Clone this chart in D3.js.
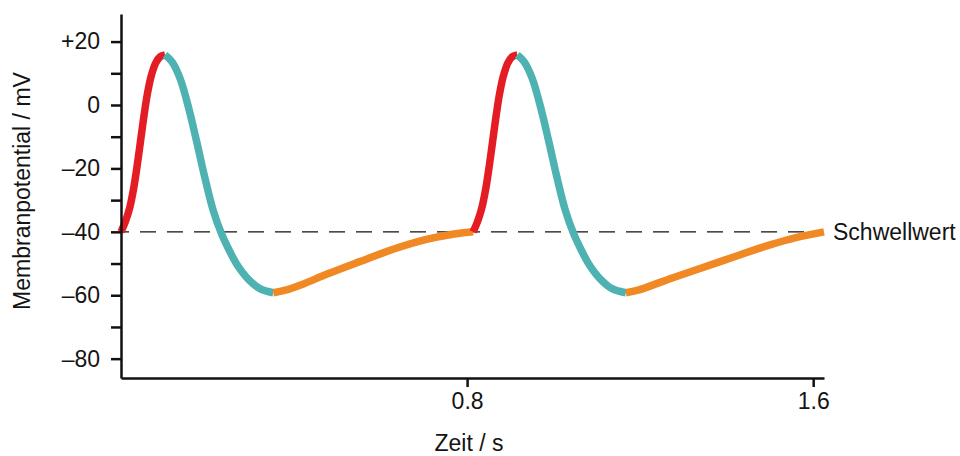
<!DOCTYPE html>
<html>
<head>
<meta charset="utf-8">
<script src="https://cdn.jsdelivr.net/npm/d3@7"></script>
<style>
  html, body { margin: 0; padding: 0; background: #fff; }
  svg { display: block; }
  text { font-family: "Liberation Sans", Arial, sans-serif; fill: #141414; }
</style>
</head>
<body>
<svg id="chart" width="960" height="456"></svg>
<script>
// ---- data (time in s, membrane potential in mV) ----
const yTickValues = [-80, -70, -60, -50, -40, -30, -20, -10, 0, 10, 20];
const yTickLabels = ["–80", "", "–60", "", "–40", "", "–20", "", "0", "", "+20"];
const xTickValues = [0.8, 1.6];
const xTickLabels = ["0.8", "1.6"];
const thresholdMV = -40;
const thresholdLabel = "Schwellwert";
const yTitle = "Membranpotential / mV";
const xTitle = "Zeit / s";

// cycle 1
const rise1T = [0, 0.010, 0.020, 0.029, 0.037, 0.045, 0.053, 0.061, 0.070, 0.080, 0.091, 0.1016];
const rise1V = [-40, -36.8, -32.5, -26.5, -19.5, -11.5, -3.5, 3.5, 9.2, 13.2, 15.3, 15.8];
const fall1T = [0.1016, 0.118, 0.137, 0.158, 0.176, 0.194, 0.213, 0.232, 0.249, 0.268, 0.294, 0.321, 0.352];
const fall1V = [15.8, 13.6, 8.2, -1.8, -12.2, -23.0, -33.2, -40.5, -45.5, -50.3, -54.9, -57.9, -59.2];
const slow1T = [0.352, 0.380, 0.420, 0.475, 0.552, 0.629, 0.706, 0.760, 0.814];
const slow1V = [-59.2, -58.4, -56.5, -53.4, -49.4, -45.5, -42.4, -40.9, -40];
// cycle 2
const rise2T = [0.814, 0.824, 0.834, 0.843, 0.851, 0.859, 0.867, 0.875, 0.884, 0.894, 0.905, 0.916];
const rise2V = [-40, -36.8, -32.5, -26.5, -19.5, -11.5, -3.5, 3.5, 9.2, 13.2, 15.3, 15.8];
const fall2T = [0.916, 0.932, 0.951, 0.972, 0.990, 1.008, 1.027, 1.046, 1.063, 1.082, 1.108, 1.135, 1.167];
const fall2V = [15.8, 13.6, 8.2, -1.8, -12.2, -23.0, -33.2, -40.5, -45.5, -50.3, -54.9, -57.9, -59.2];
const slow2T = [1.167, 1.195, 1.235, 1.269, 1.385, 1.50, 1.56, 1.625];
const slow2V = [-59.2, -58.4, -56.5, -54.8, -49.4, -44.1, -41.8, -40];

const phaseColor = { rise: "#e41d25", fall: "#4eb2b2", slow: "#f08824" };

// ---- layout ----
const svg = d3.select("#chart");
const x = d3.scaleLinear().domain([0, 1.625]).range([121, 824]);
const y = d3.scaleLinear().domain([-86.1, 28.7]).range([378, 14]);

// threshold dashed line
svg.append("line")
  .attr("x1", x(0)).attr("x2", x(1.62))
  .attr("y1", y(thresholdMV)).attr("y2", y(thresholdMV))
  .attr("stroke", "#111").attr("stroke-width", 1.4)
  .attr("stroke-dasharray", "16,11").attr("stroke-dashoffset", 8);

svg.append("text")
  .attr("x", 833).attr("y", y(thresholdMV) + 8)
  .attr("font-size", 23)
  .text(thresholdLabel);

// curves
const line = d3.line().x(d => x(d[0])).y(d => y(d[1])).curve(d3.curveCatmullRom.alpha(0.5));
const segments = [
  [rise1T, rise1V, "rise"], [fall1T, fall1V, "fall"], [slow1T, slow1V, "slow"],
  [rise2T, rise2V, "rise"], [fall2T, fall2V, "fall"], [slow2T, slow2V, "slow"]
];
segments.forEach(([ts, vs, phase]) => {
  svg.append("path")
    .datum(ts.map((t, i) => [t, vs[i]]))
    .attr("d", line)
    .attr("fill", "none")
    .attr("stroke", phaseColor[phase])
    .attr("stroke-width", 7.5)
    .attr("stroke-linecap", "butt")
    .attr("stroke-linejoin", "round");
});

// axes
const yAxis = d3.axisLeft(y).tickValues(yTickValues).tickSize(10).tickSizeOuter(0)
  .tickPadding(11).tickFormat((d, i) => yTickLabels[i]);
const gy = svg.append("g").attr("transform", `translate(${x(0)},0)`).call(yAxis);
const xAxis = d3.axisBottom(x).tickValues(xTickValues).tickSize(9).tickSizeOuter(0)
  .tickPadding(6).tickFormat((d, i) => xTickLabels[i]);
const gx = svg.append("g").attr("transform", `translate(0,${y.range()[0]})`).call(xAxis);

[gx, gy].forEach(g => {
  g.select(".domain").attr("stroke", "#111").attr("stroke-width", 2.5);
  g.selectAll(".tick line").attr("stroke", "#111").attr("stroke-width", 2.5);
  g.selectAll(".tick text").attr("font-size", 23).attr("fill", "#141414")
    .attr("font-family", "'Liberation Sans', Arial, sans-serif");
});

// titles
svg.append("text")
  .attr("transform", `translate(30,191) rotate(-90)`)
  .attr("text-anchor", "middle")
  .attr("font-size", 23)
  .text(yTitle);

svg.append("text")
  .attr("x", 469).attr("y", 451)
  .attr("text-anchor", "middle")
  .attr("font-size", 23)
  .text(xTitle);
</script>
</body>
</html>
